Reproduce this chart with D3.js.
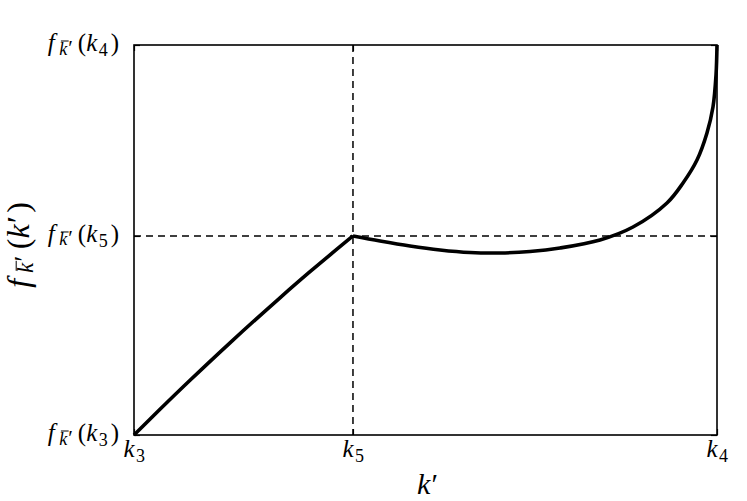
<!DOCTYPE html>
<html>
<head>
<meta charset="utf-8">
<script src="https://cdn.jsdelivr.net/npm/d3@7"></script>
<style>
  body { margin: 0; background: #fff; }
</style>
</head>
<body>
<div id="chart"></div>
<script>
// normalised k' positions (k3 = 0, k4 = 1) and f values (f(k3) = 0, f(k4) = 1)
var k5 = 0.3756, f5 = 0.5103;

var leftX  = [0, 0.0446, 0.0961, 0.1647, 0.2504, 0.3019, 0.3756];
var leftY  = [0, 0.0659, 0.1403, 0.2364, 0.3518, 0.4187, 0.5103];
var rightX = [0.3756, 0.4220, 0.4734, 0.5249, 0.5763, 0.6278, 0.6792, 0.7307, 0.7993,
              0.8559, 0.9142, 0.9417, 0.9657, 0.9828, 0.9931, 0.9983, 1.0];
var rightY = [0.5103, 0.4974, 0.4846, 0.4744, 0.4679, 0.4667, 0.4705, 0.4795, 0.5000,
              0.5333, 0.5949, 0.6462, 0.7051, 0.7744, 0.8410, 0.9231, 1.0];

var xTicks = [0, k5, 1], xTickLabels = ["3", "5", "4"];
var yTicks = [0, f5, 1], yTickLabels = ["3", "5", "4"];

var serif = "'Liberation Serif', 'DejaVu Serif', serif";

var width = 747, height = 501;
var margin = { top: 45, right: 30, bottom: 66, left: 134 };
var w = width - margin.left - margin.right,
    h = height - margin.top - margin.bottom;

var svg = d3.select("#chart").append("svg")
    .attr("width", width)
    .attr("height", height);

var g = svg.append("g")
    .attr("transform", "translate(" + margin.left + "," + margin.top + ")");

var x = d3.scaleLinear().domain([0, 1]).range([0, w]);
var y = d3.scaleLinear().domain([0, 1]).range([h, 0]);

// dashed guide lines through (k5, f(k5))
g.append("line")
    .attr("x1", x(k5)).attr("x2", x(k5))
    .attr("y1", 0).attr("y2", h)
    .attr("stroke", "#000").attr("stroke-width", 1.5)
    .attr("stroke-dasharray", "7,5");
g.append("line")
    .attr("x1", 0).attr("x2", w)
    .attr("y1", y(f5)).attr("y2", y(f5))
    .attr("stroke", "#000").attr("stroke-width", 1.5)
    .attr("stroke-dasharray", "7,5");

// curve, two pieces so the kink at k5 stays sharp
var line = d3.line()
    .x(function (d) { return x(d[0]); })
    .y(function (d) { return y(d[1]); })
    .curve(d3.curveCatmullRom.alpha(0.5));

[[leftX, leftY], [rightX, rightY]].forEach(function (s) {
    g.append("path")
        .datum(d3.zip(s[0], s[1]))
        .attr("d", line)
        .attr("fill", "none")
        .attr("stroke", "#000")
        .attr("stroke-width", 3.6)
        .attr("stroke-linejoin", "round");
});

// frame and inside ticks
g.append("rect")
    .attr("width", w).attr("height", h)
    .attr("fill", "none").attr("stroke", "#000").attr("stroke-width", 1.6);

var axB = g.append("g").attr("transform", "translate(0," + h + ")")
    .call(d3.axisBottom(x).tickValues(xTicks).tickSize(-6).tickFormat(""));
var axT = g.append("g")
    .call(d3.axisTop(x).tickValues(xTicks).tickSize(-6).tickFormat(""));
var axL = g.append("g")
    .call(d3.axisLeft(y).tickValues(yTicks).tickSize(-6).tickFormat(""));
var axR = g.append("g").attr("transform", "translate(" + w + ",0)")
    .call(d3.axisRight(y).tickValues(yTicks).tickSize(-6).tickFormat(""));
[axB, axT, axL, axR].forEach(function (a) {
    a.select(".domain").remove();
    a.selectAll(".tick line").attr("stroke", "#000").attr("stroke-width", 1.2);
});

// small math typesetter: pieces placed in em units from the baseline origin
function mathLabel(parent, pieces, size) {
    var gg = parent.append("g");
    pieces.forEach(function (p) {
        if (p.bar) {
            gg.append("line")
                .attr("x1", p.x1 * size).attr("x2", p.x2 * size)
                .attr("y1", p.y * size).attr("y2", p.y * size)
                .attr("stroke", "#000").attr("stroke-width", 1);
        } else {
            gg.append("text")
                .attr("x", p.x * size).attr("y", (p.y || 0) * size)
                .attr("font-family", serif)
                .attr("font-size", (p.s || 1) * size)
                .attr("font-style", p.i ? "italic" : "normal")
                .attr("fill", "#000")
                .text(p.t);
        }
    });
    return gg;
}

var fPieces = [
    { t: "f", x: 0.04, i: true },
    { t: "k", x: 0.50, y: 0.14, s: 0.72, i: true },
    { bar: true, x1: 0.57, x2: 0.88, y: -0.40 },
    { t: "\u2032", x: 0.86, y: 0.14, s: 0.85 },
    { t: "(", x: 1.24 }
];

// x tick labels: k_n
xTicks.forEach(function (v, i) {
    mathLabel(g, [
        { t: "k", x: 0, i: true },
        { t: xTickLabels[i], x: 0.50, y: 0.2, s: 0.72 }
    ], 25).attr("transform", "translate(" + (x(v) - 10.5) + "," + (h + 22) + ")");
});

// y tick labels: f_{k̄'}(k_n), right aligned against the frame
yTicks.forEach(function (v, i) {
    var lab = mathLabel(g, fPieces.concat([
        { t: "k", x: 1.58, i: true },
        { t: yTickLabels[i], x: 2.08, y: 0.2, s: 0.72 },
        { t: ")", x: 2.56 }
    ]), 25);
    var bb = lab.node().getBBox();
    lab.attr("transform", "translate(" + (-15 - (bb.x + bb.width)) + "," + (y(v) + 6) + ")");
});

// axis titles
mathLabel(svg, [
    { t: "k", x: 0, i: true },
    { t: "\u2032", x: 0.48, s: 1 }
], 30).attr("transform", "translate(417,494)");

mathLabel(svg, fPieces.concat([
    { t: "k", x: 1.58, i: true },
    { t: "\u2032", x: 2.06, s: 1 },
    { t: ")", x: 2.38 }
]), 32).attr("transform", "translate(29,289) rotate(-90)");
</script>
</body>
</html>
